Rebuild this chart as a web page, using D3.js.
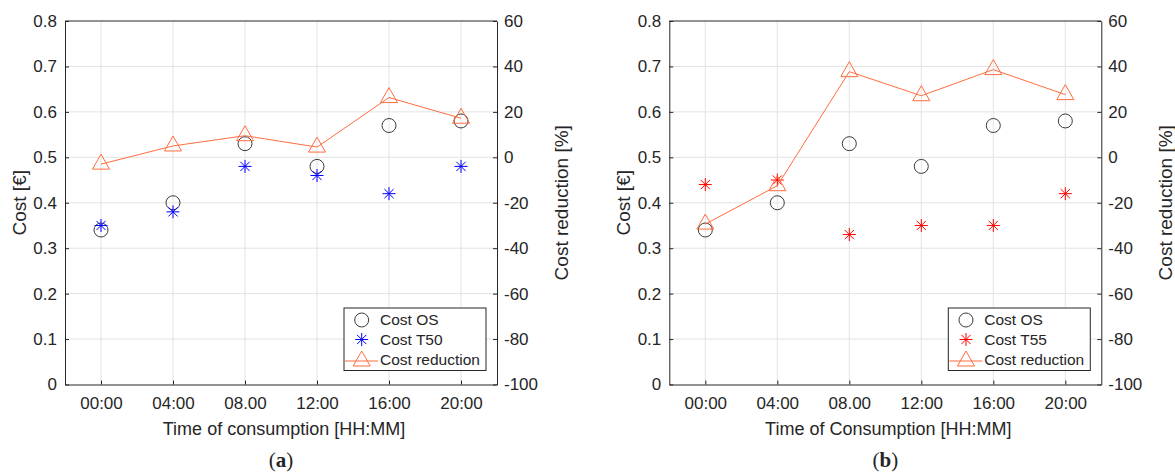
<!DOCTYPE html>
<html>
<head>
<meta charset="utf-8">
<script src="https://cdn.jsdelivr.net/npm/d3@7"></script>
<style>
  body { margin: 0; background: #fff; }
  svg { display: block; }
  text { font-family: 'Liberation Sans', Arial, sans-serif; fill: #262626; }
</style>
</head>
<body>
<div id="chart"></div>
<script>
// data
const times = ['00:00', '04:00', '08.00', '12:00', '16:00', '20:00'];
const costOS = [0.34, 0.40, 0.53, 0.48, 0.57, 0.58];
const costT50 = [0.35, 0.38, 0.48, 0.46, 0.42, 0.48];
const costT55 = [0.44, 0.45, 0.33, 0.35, 0.35, 0.42];
const reductionA = [-3, 5, 9.5, 4.5, 26.3, 17.2];
const reductionB = [-29.4, -12.5, 37.7, 27.1, 38.6, 27.6];
const leftTicks = [0, 0.1, 0.2, 0.3, 0.4, 0.5, 0.6, 0.7, 0.8];
const rightTicks = [-100, -80, -60, -40, -20, 0, 20, 40, 60];

const W = 1175, H = 475;
const ORANGE = '#ff6d3f';
const GRID = '#e3e3e3';
const AXIS = '#262626';
const TICK_FONT = '17px';
const LABEL_FONT = '18px';
const YLABEL_FONT = '19px';
const LEGEND_FONT = '15.5px';

const svg = d3.select('#chart').append('svg')
  .attr('width', W)
  .attr('height', H);

/**
 * Draws one subplot with a left cost axis and a right reduction axis
 */
function drawPanel(opt) {
  const left = opt.left, right = opt.left + 432;
  const top = 21, bottom = 384.5;

  const x = d3.scaleLinear().domain([-0.5, times.length - 0.5]).range([left, right]);
  const yL = d3.scaleLinear().domain([0, 0.8]).range([bottom, top]);
  const yR = d3.scaleLinear().domain([-100, 60]).range([bottom, top]);

  const g = svg.append('g');

  // grid
  g.append('g').selectAll('line.vg')
    .data(times)
    .join('line')
    .attr('x1', (d, i) => x(i)).attr('x2', (d, i) => x(i))
    .attr('y1', top).attr('y2', bottom)
    .attr('stroke', GRID);
  g.append('g').selectAll('line.hg')
    .data(leftTicks.slice(1, -1))
    .join('line')
    .attr('x1', left).attr('x2', right)
    .attr('y1', d => yL(d)).attr('y2', d => yL(d))
    .attr('stroke', GRID);

  // axes (matlab style, ticks pointing in)
  const xAxis = d3.axisBottom(x)
    .tickValues(d3.range(times.length))
    .tickFormat(i => times[i])
    .tickSizeInner(-4).tickSizeOuter(0).tickPadding(12);
  const leftAxis = d3.axisLeft(yL).tickValues(leftTicks)
    .tickFormat(d => d === 0 ? '0' : d3.format('.1f')(d))
    .tickSizeInner(-4).tickSizeOuter(0).tickPadding(8);
  const rightAxis = d3.axisRight(yR).tickValues(rightTicks)
    .tickFormat(d => String(d)) // plain hyphen minus like the original
    .tickSizeInner(-4).tickSizeOuter(0).tickPadding(7);

  const styleAxis = sel => {
    sel.selectAll('path, line').attr('stroke', AXIS);
    sel.selectAll('text')
      .style('font-family', "'Liberation Sans', Arial, sans-serif")
      .style('font-size', TICK_FONT)
      .attr('fill', AXIS);
  };
  g.append('g').attr('transform', `translate(0,${bottom})`).call(xAxis).call(styleAxis);
  g.append('g').attr('transform', `translate(${left},0)`).call(leftAxis).call(styleAxis);
  g.append('g').attr('transform', `translate(${right},0)`).call(rightAxis).call(styleAxis);
  // top border
  g.append('line')
    .attr('x1', left).attr('x2', right)
    .attr('y1', top).attr('y2', top)
    .attr('stroke', AXIS);

  // axis labels
  g.append('text')
    .attr('x', (left + right) / 2 + 3).attr('y', 429)
    .attr('dy', '0.35em')
    .attr('text-anchor', 'middle')
    .style('font-size', LABEL_FONT)
    .text(opt.xLabel);
  g.append('text')
    .attr('transform', `translate(${left - 46},${(top + bottom) / 2}) rotate(-90)`)
    .attr('dy', '0.35em')
    .attr('text-anchor', 'middle')
    .style('font-size', YLABEL_FONT)
    .text('Cost [€]');
  g.append('text')
    .attr('transform', `translate(${right + 64},${(top + bottom) / 2}) rotate(-90)`)
    .attr('dy', '0.35em')
    .attr('text-anchor', 'middle')
    .style('font-size', YLABEL_FONT)
    .text('Cost reduction [%]');

  // sub figure tag
  const tag = g.append('text')
    .attr('x', (left + right) / 2).attr('y', 460)
    .attr('dy', '0.35em')
    .attr('text-anchor', 'middle')
    .style('font-family', "'Liberation Serif', 'Times New Roman', serif")
    .style('font-size', '21px');
  tag.append('tspan').text('(');
  tag.append('tspan').style('font-weight', 'bold').text(opt.tag);
  tag.append('tspan').text(')');

  // marker helpers
  const circle = (sel, cx, cy) => sel.append('circle')
    .attr('cx', cx).attr('cy', cy).attr('r', 7)
    .attr('fill', 'none').attr('stroke', '#3a3a3a').attr('stroke-width', 1);
  const star = (sel, cx, cy, color) => {
    const r = 6.5, d = 4.6;
    const p = `M${cx},${cy - r}L${cx},${cy + r}M${cx - r},${cy}L${cx + r},${cy}` +
      `M${cx - d},${cy - d}L${cx + d},${cy + d}M${cx - d},${cy + d}L${cx + d},${cy - d}`;
    sel.append('path').attr('d', p).attr('stroke', color).attr('stroke-width', 1).attr('fill', 'none');
  };
  const tri = (sel, cx, cy) => sel.append('path')
    .attr('d', `M${cx},${cy - 10}L${cx + 8.5},${cy + 5}L${cx - 8.5},${cy + 5}Z`)
    .attr('fill', 'none').attr('stroke', ORANGE).attr('stroke-width', 1);

  const marks = g.append('g');
  costOS.forEach((v, i) => circle(marks, x(i), yL(v)));
  opt.tariff.forEach((v, i) => star(marks, x(i), yL(v), opt.starColor));

  const line = d3.line().x((d, i) => x(i)).y(d => yR(d));
  marks.append('path')
    .datum(opt.reduction)
    .attr('d', line)
    .attr('fill', 'none')
    .attr('stroke', ORANGE)
    .attr('stroke-width', 1);
  opt.reduction.forEach((v, i) => tri(marks, x(i), yR(v)));

  // legend
  const lx = right - 153, ly = bottom - 76.5;
  const lg = g.append('g').attr('transform', `translate(${lx},${ly})`);
  lg.append('rect')
    .attr('width', 142).attr('height', 62.5)
    .attr('fill', '#fff').attr('stroke', AXIS).attr('stroke-width', 1);
  const rows = [
    { label: 'Cost OS', y: 12 },
    { label: opt.tariffLabel, y: 31.5 },
    { label: 'Cost reduction', y: 52 }
  ];
  circle(lg, 17.7, rows[0].y);
  star(lg, 17.7, rows[1].y, opt.starColor);
  lg.append('line')
    .attr('x1', 1).attr('x2', 34)
    .attr('y1', rows[2].y + 1).attr('y2', rows[2].y + 1)
    .attr('stroke', ORANGE);
  tri(lg, 17.7, rows[2].y + 1);
  lg.selectAll('text.item')
    .data(rows)
    .join('text')
    .attr('x', 36).attr('y', d => d.y)
    .attr('dy', '0.35em')
    .style('font-size', LEGEND_FONT)
    .text(d => d.label);
}

drawPanel({
  left: 65, tag: 'a', xLabel: 'Time of consumption [HH:MM]',
  tariff: costT50, tariffLabel: 'Cost T50', starColor: '#0000ff', reduction: reductionA
});
drawPanel({
  left: 669.3, tag: 'b', xLabel: 'Time of Consumption [HH:MM]',
  tariff: costT55, tariffLabel: 'Cost T55', starColor: '#ff0000', reduction: reductionB
});
</script>
</body>
</html>
